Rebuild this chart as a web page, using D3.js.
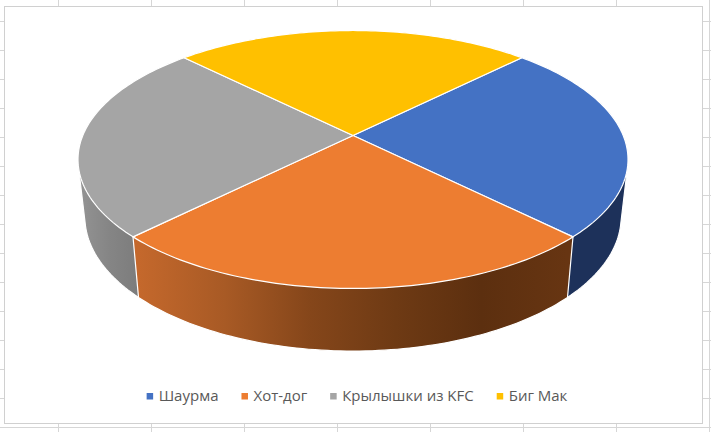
<!DOCTYPE html>
<html>
<head>
<meta charset="utf-8">
<script src="https://cdn.jsdelivr.net/npm/d3@7"></script>
<style>
  html, body { margin: 0; padding: 0; background: #fff; }
  svg { display: block; }
  text { font-family: "Open Sans", "Noto Sans", sans-serif; }
</style>
</head>
<body>
<svg width="711" height="432"></svg>
<script>
//chart data
var categories = ["Шаурма", "Хот-дог", "Крылышки из KFC", "Биг Мак"];
var values = [25, 25, 25, 25];
var topColors = ["#4472C4", "#ED7D31", "#A5A5A5", "#FFC000"];
var wallColors = ["#1D315A", "url(#wallOrange)", "url(#wallGray)", "#997300"];

//shading of the side walls, left to right
var orangeStops = ["#C4682C", "#A85A25", "#85461A", "#6E3A14", "#5C2F0F", "#673512"];
var grayStops = ["#939393", "#858585", "#7C7C7C"];

var svg = d3.select("svg"),
    width = +svg.attr("width"),
    height = +svg.attr("height");

//excel sheet behind the chart
var grid = svg.append("g").attr("stroke", "#d6d6d6").attr("fill", "none");
d3.range(58, width, 93).forEach(function(x) {
  grid.append("line").attr("x1", x + 0.5).attr("x2", x + 0.5).attr("y1", 0).attr("y2", height);
});
d3.range(21.5, height, 29).forEach(function(y) {
  grid.append("line").attr("x1", 0).attr("x2", width).attr("y1", y).attr("y2", y);
});

//chart area covers the sheet
svg.append("rect")
    .attr("x", 4.5)
    .attr("y", 6.5)
    .attr("width", 698)
    .attr("height", 417)
    .attr("fill", "#fff")
    .attr("stroke", "#d0d0d0");

//perspective of the disc: apex of the slices sits above the middle of the ellipse
var apexX = 353,
    apexY = 135.5,
    persp = 0.186,
    radX = 270.2,
    radY = 124.5,
    depth = 56.5,
    lowerX = 0.975,
    lowerY = 1.04;

//angle is d3.pie's, clockwise from north. level 0 = top face, 1 = bottom face
function project(angle, level) {
  var u = Math.sin(angle), v = Math.cos(angle);
  var w = 1 + persp * v;
  return [
    apexX + radX * u / w * (level ? lowerX : 1),
    apexY - radY * v / w * (level ? lowerY : 1) + (level ? depth : 0)
  ];
}

function arcPoints(d, level) {
  var n = 80;
  return d3.range(n + 1).map(function(i) {
    return project(d.startAngle + (d.endAngle - d.startAngle) * i / n, level);
  });
}

var pie = d3.pie()
    .sort(null)
    .startAngle(Math.PI / 4)
    .endAngle(Math.PI / 4 + 2 * Math.PI);
var slices = pie(values);
var line = d3.line();

//gradients for the lit walls
var defs = svg.append("defs");
function addGradient(id, x1, x2, stops) {
  var g = defs.append("linearGradient")
      .attr("id", id)
      .attr("gradientUnits", "userSpaceOnUse")
      .attr("x1", x1).attr("x2", x2)
      .attr("y1", 0).attr("y2", 0);
  stops.forEach(function(c, i) {
    g.append("stop").attr("offset", i / (stops.length - 1)).attr("stop-color", c);
  });
}
addGradient("wallOrange", 139, 567, orangeStops);
addGradient("wallGray", 80, 139, grayStops);

//walls go first, far ones before near ones, the top face hides the rest
var wallOrder = slices.slice().sort(function(a, b) {
  return Math.cos((b.startAngle + b.endAngle) / 2) - Math.cos((a.startAngle + a.endAngle) / 2);
});
svg.append("g")
  .selectAll("path")
  .data(wallOrder)
  .enter().append("path")
    .attr("d", function(d) {
      var hull = d3.polygonHull(arcPoints(d, 0).concat(arcPoints(d, 1)));
      return line(hull) + "Z";
    })
    .attr("fill", function(d) { return wallColors[d.index]; })
    .attr("stroke", "#fff")
    .attr("stroke-width", 1.2)
    .attr("stroke-linejoin", "round");

//top face
svg.append("g")
  .selectAll("path")
  .data(slices)
  .enter().append("path")
    .attr("d", function(d) {
      return line([[apexX, apexY]].concat(arcPoints(d, 0))) + "Z";
    })
    .attr("fill", function(d) { return topColors[d.index]; })
    .attr("stroke", "#fff")
    .attr("stroke-width", 1.2)
    .attr("stroke-linejoin", "round");

//legend, laid out from the measured text widths
var legend = svg.append("g");
var legendX = 0;
categories.forEach(function(name, i) {
  var item = legend.append("g");
  item.append("rect")
      .attr("y", -3)
      .attr("width", 6.5)
      .attr("height", 6.5)
      .attr("fill", topColors[i]);
  var label = item.append("text")
      .attr("x", 12)
      .attr("dy", "0.36em")
      .attr("font-size", 15)
      .attr("fill", "#595959")
      .text(name);
  item.attr("transform", "translate(" + legendX + ",0)");
  legendX += 12 + label.node().getComputedTextLength() + 23;
});
legend.attr("transform", "translate(" + (357 - (legendX - 23) / 2) + ",396)");
</script>
</body>
</html>
